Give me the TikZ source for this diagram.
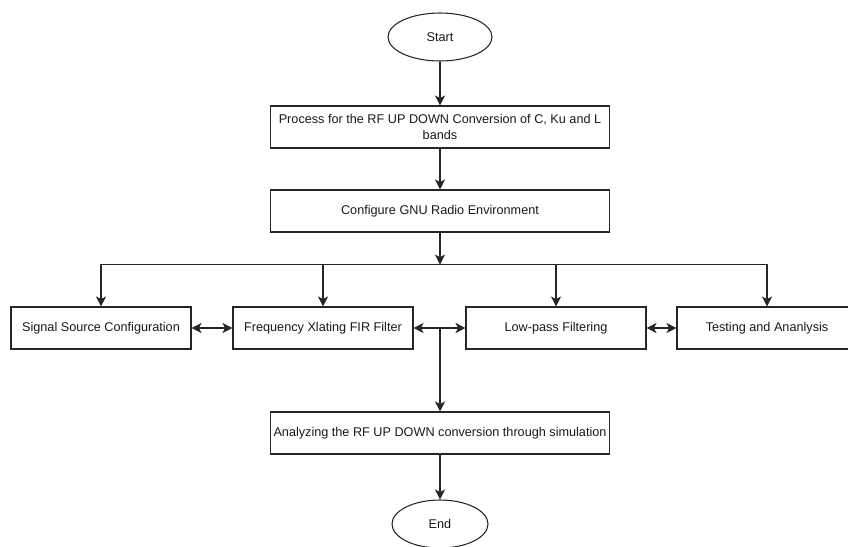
\documentclass[tikz,border=0pt]{standalone}
\usepackage{fontspec}
\setmainfont{Liberation Sans}
\usetikzlibrary{positioning,shapes.geometric,arrows.meta}
\tikzset{
  block/.style={draw=black!85, rectangle, minimum height=31.5pt, minimum width=135pt,
    inner xsep=1pt, align=center, text=black!90, font=\fontsize{9.5}{11.5}\selectfont},
  wide/.style={block, minimum width=254pt},
  terminal/.style={draw=black!85, ellipse, minimum height=36pt, minimum width=78pt,
    inner sep=0pt, text=black!90, font=\fontsize{9.5}{11.5}\selectfont}
}
\begin{document}
\begin{tikzpicture}[x=0.75pt, y=-0.75pt, line width=0.8pt, draw=black!85,
  >={Stealth[length=7.5pt,width=7.5pt,inset=2pt]}, on grid]
\useasboundingbox (0,0) rectangle (848,546);
\clip (0,0) rectangle (848,546);
% steps of the flow
\node [terminal] (start) at (440,37) {Start};
\node [wide] (process) [below=67.5pt of start] {Process for the RF UP DOWN Conversion of C, Ku and L\\bands};
\node [wide] (config) [below=63pt of process] {Configure GNU Radio Environment};
\node [block] (signal) at (101,328) {Signal Source Configuration};
\node [block] (fir) [right=166.5pt of signal] {Frequency Xlating FIR Filter};
\node [block] (lowpass) [right=174.75pt of fir] {Low-pass Filtering};
\node [block] (testing) [right=158.25pt of lowpass] {Testing and Ananlysis};
\node [wide] (analyze) [below=166.5pt of config] {Analyzing the RF UP DOWN conversion through simulation};
\node [terminal, minimum width=72pt] (stop) [below=68.25pt of analyze] {End};
\coordinate (bus) at ([yshift=-24pt]config.south);
\coordinate (junc) at (analyze |- fir);
% connectors of the flow
\path[->]
(start) edge (process)
(process) edge (config)
(config) edge (bus)
(junc) edge (analyze)
(analyze) edge (stop)
;
\draw[->] (bus) -| (signal);
\draw[->] (bus) -| (fir);
\draw[->] (bus) -| (lowpass);
\draw[->] (bus) -| (testing);
\path[<->]
(signal) edge (fir)
(fir) edge (lowpass)
(lowpass) edge (testing)
;
\end{tikzpicture}
\end{document}
